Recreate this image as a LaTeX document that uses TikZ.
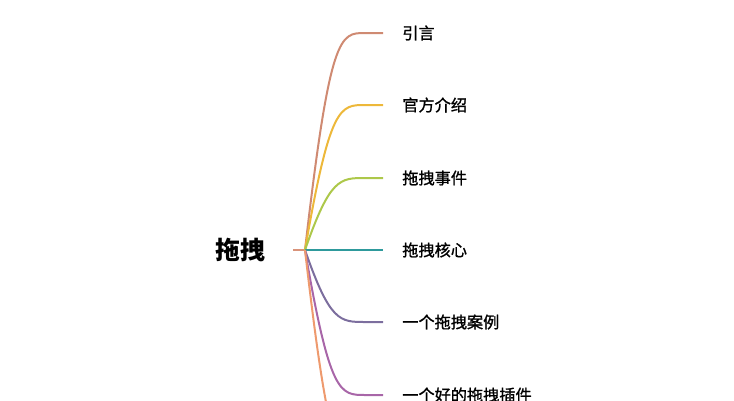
\documentclass[tikz,border=0pt]{standalone}
\usepackage{fontspec}
\newfontfamily\cjk{Noto Sans CJK SC}
\newfontfamily\cjkmid[FakeBold=1.2]{Noto Sans CJK SC}
\usetikzlibrary{positioning}
\usepackage{xcolor}

\definecolor{cStub}{HTML}{D9937A}
\definecolor{cA}{HTML}{CF8A72}
\definecolor{cB}{HTML}{EDB83A}
\definecolor{cC}{HTML}{ADC84A}
\definecolor{cD}{HTML}{2E9A9C}
\definecolor{cE}{HTML}{7C6E9E}
\definecolor{cF}{HTML}{A866A8}
\definecolor{cG}{HTML}{EE9A6E}

\tikzset{
branch/.style={line width=0.04cm},
leaf/.style={inner sep=0pt, font=\cjkmid\fontsize{9.2}{11}\selectfont},
rootlabel/.style={inner sep=0pt, font=\cjk\bfseries\fontsize{14.2}{16}\selectfont}
}

\begin{document}
\begin{tikzpicture}[x=0.02cm, y=-0.02cm]

\useasboundingbox (0,0) rectangle (734,400);
\clip (0,0) rectangle (734,400);

%root topic%
\node[rootlabel] (root) at (240,250) {拖拽};
\coordinate (stub) at (293,250);
\coordinate (hub) at (305,250);
\draw[branch, cStub] (stub)--(hub);

%subtopics%
\foreach \n/\y/\c/\t in {1/33/cA/引言, 2/105/cB/官方介绍, 3/178/cC/拖拽事件, 4/250/cD/拖拽核心, 5/322/cE/一个拖拽案例, 6/395/cF/一个好的拖拽插件}
{
\coordinate (e\n) at (383,\y);
\node[leaf, right=0.38cm of e\n] (t\n) {\t};
\draw[branch, \c] (hub) .. controls (330,\y) and (340,\y) .. (365,\y) -- (e\n);
}

%last subtopic, below the page%
\coordinate (e7) at (383,467);
\draw[branch, cG] (hub) .. controls (330,467) and (340,467) .. (365,467) -- (e7);

\end{tikzpicture}
\end{document}
